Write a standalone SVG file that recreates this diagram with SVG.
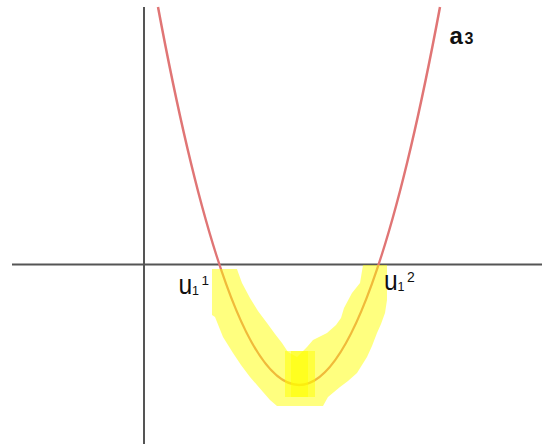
<svg xmlns="http://www.w3.org/2000/svg" width="542" height="446" viewBox="0 0 542 446">
<style>
.axis{stroke:#555;stroke-width:2;fill:none}
.curve{stroke:#e07575;stroke-width:2.5;fill:none}
.hl{fill:#ffff00;fill-opacity:0.5;stroke:none}
.lbl{font-family:"Liberation Sans",Arial,sans-serif;fill:#111}
</style>
<rect width="542" height="446" fill="#fff"/>
<g id="axes">
<line class="axis" x1="12" y1="264.5" x2="542" y2="264.5"/>
<line class="axis" x1="144" y1="7" x2="144" y2="444"/>
</g>
<g id="curve">
<path class="curve" d="M158,7 Q299,763 440,7"/>
</g>
<g id="highlight">
<path class="hl" d="M212,269 L237,269 L238,272 L242,283 L250,298 L258,311 L267,323 L275,334 L282,343 L288,352 L297,357 L307,347 L313,340 L327,333 L336,325 L341,318 L344,308 L352,293 L360,283 L363,265 L387,265 L387,300 L385,313 L381,324 L377,333 L372,346 L367,357 L357,373 L348,381 L340,387 L328,397 L323,406 L277,406 L270,400 L263,392 L250,377 L241,365 L233,353 L223,337 L215,317 L212,315 Z"/>
<rect class="hl" x="285" y="351" width="30" height="46"/>
<rect class="hl" x="291" y="351" width="17" height="46"/>
</g>
<g id="labels">
<text class="lbl" transform="translate(178.5,294) scale(0.88,1)" font-size="28">u</text>
<text class="lbl" x="192" y="294.5" font-size="12.5">1</text>
<text class="lbl" x="201.5" y="284.5" font-size="13.5">1</text>
<text class="lbl" transform="translate(384,290) scale(0.88,1)" font-size="28">u</text>
<text class="lbl" x="397.5" y="290.5" font-size="12.5">1</text>
<text class="lbl" x="407" y="281.5" font-size="14">2</text>
<text class="lbl" x="449.5" y="44" font-size="24" font-weight="bold">a</text>
<text class="lbl" x="464.5" y="44" font-size="16" font-weight="600">3</text>
</g>
</svg>
